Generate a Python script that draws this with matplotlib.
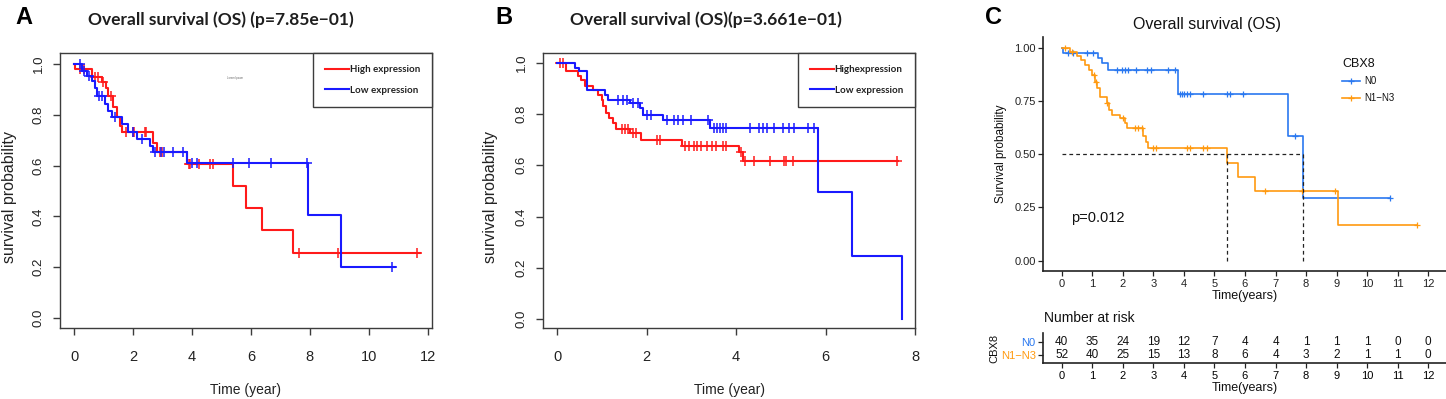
import numpy as np
import matplotlib
matplotlib.use("Agg")
import matplotlib.pyplot as plt
from matplotlib.lines import Line2D

# ---------------- Panel A data ----------------
A_high_t = [0, 0.02, 0.6, 0.94, 1.1, 1.16, 1.33, 1.45, 1.56, 1.62, 2.69, 2.8, 3.82, 5.4, 5.82, 6.36, 7.41]
A_high_s = [1.0, 0.98, 0.95, 0.927, 0.907, 0.875, 0.83, 0.79, 0.757, 0.731, 0.689, 0.652, 0.607, 0.518, 0.434, 0.345, 0.258]
A_high_end = 11.75
A_high_cens = [0.2, 0.35, 0.7, 0.8, 1.0, 1.25, 1.75, 2.0, 2.05, 2.4, 2.45, 2.9, 3.0, 3.9, 3.95,
               4.25, 4.6, 4.7, 7.63, 8.96, 11.62]

A_low_t = [0, 0.26, 0.43, 0.6, 0.71, 0.79, 1.05, 1.16, 1.28, 1.62, 1.84, 2.15, 2.58, 2.69, 3.82, 7.94, 9.07]
A_low_s = [1.0, 0.973, 0.953, 0.933, 0.907, 0.875, 0.842, 0.816, 0.79, 0.764, 0.733, 0.705, 0.678, 0.652, 0.61, 0.405, 0.2]
A_low_end = 10.88
A_low_cens = [0.2, 0.35, 0.5, 0.85, 0.95, 1.4, 2.0, 2.3, 2.75, 2.95, 3.05, 3.35, 3.7, 3.99, 4.16,
              5.4, 5.94, 6.68, 7.9, 10.8]

# ---------------- Panel B data ----------------
B_high_t = [0, 0.2, 0.47, 0.54, 0.62, 0.8, 0.92, 0.99, 1.03, 1.09, 1.16, 1.24, 1.31, 1.63, 1.87, 2.78, 4.07, 4.15]
B_high_s = [1.0, 0.966, 0.949, 0.934, 0.91, 0.895, 0.875, 0.855, 0.83, 0.803, 0.784, 0.764, 0.741, 0.725, 0.699, 0.676, 0.65, 0.617]
B_high_end = 7.63
B_high_cens = [0.05, 0.12, 1.45, 1.52, 1.58, 1.7, 1.76, 2.22, 2.3, 2.85, 2.95, 3.05, 3.12, 3.22, 3.35,
               3.45, 3.55, 3.7, 3.78, 4.1, 4.2, 4.4, 4.76, 5.06, 5.12, 5.28, 7.6]

B_low_t = [0, 0.39, 0.49, 0.66, 1.07, 1.14, 1.63, 1.85, 1.92, 2.37, 3.42, 5.83, 6.59, 7.71]
B_low_s = [1.0, 0.98, 0.969, 0.894, 0.875, 0.855, 0.842, 0.823, 0.797, 0.777, 0.745, 0.495, 0.247, 0.0]
B_low_end = 7.71
B_low_cens = [1.35, 1.47, 1.55, 1.7, 1.8, 2.0, 2.1, 2.45, 2.6, 2.7, 2.8, 3.0, 3.38, 3.5, 3.57, 3.63,
              3.7, 3.77, 4.3, 4.5, 4.6, 4.7, 4.85, 5.05, 5.18, 5.3, 5.6, 5.75]

# ---------------- Panel C data ----------------
C_n0_t = [0, 0.03, 1.2, 1.31, 1.53, 3.82, 7.42, 7.91]
C_n0_s = [1.0, 0.975, 0.953, 0.93, 0.895, 0.781, 0.585, 0.293]
C_n0_end = 10.75
C_n0_cens = [0.22, 0.38, 0.82, 1.04, 1.8, 1.96, 2.07, 2.18, 2.45, 2.78, 2.94, 3.49, 3.71,
             3.87, 3.93, 4.0, 4.1, 4.2, 4.64, 5.4, 5.51, 5.93, 7.64, 10.75]

C_n13_t = [0, 0.27, 0.49, 0.65, 0.76, 0.9, 0.98, 1.09, 1.17, 1.25, 1.47, 1.56, 1.64, 1.91, 2.07,
           2.15, 2.67, 2.75, 2.84, 5.4, 5.78, 6.33, 9.05]
C_n13_s = [1.0, 0.981, 0.962, 0.942, 0.919, 0.895, 0.872, 0.84, 0.81, 0.77, 0.739, 0.707, 0.684,
           0.668, 0.645, 0.621, 0.585, 0.555, 0.528, 0.46, 0.394, 0.329, 0.168]
C_n13_end = 11.64
C_n13_cens = [0.12, 0.35, 1.05, 1.12, 1.5, 2.0, 2.4, 2.51, 2.62, 2.99, 3.1, 4.09, 4.2, 4.64, 4.75,
              6.66, 7.86, 8.95, 11.64]

risk_times = list(range(13))
risk_n0 = [40, 35, 24, 19, 12, 7, 4, 4, 1, 1, 1, 0, 0]
risk_n13 = [52, 40, 25, 15, 13, 8, 6, 4, 3, 2, 1, 1, 0]

RED, BLUE = "#ff1a1a", "#1a1aff"
C_BLUE, C_ORANGE = "#2a78f0", "#ff9a10"
AX_COL = "#3c3c3c"

plt.rcParams["font.family"] = ["Liberation Sans", "DejaVu Sans"]

W, H = 1446, 399
fig = plt.figure(figsize=(W / 100, H / 100), dpi=100)


def rect(x0, y0, x1, y1):
    return [x0 / W, 1 - y1 / H, (x1 - x0) / W, (y1 - y0) / H]


def fxy(x, y):
    return x / W, 1 - y / H


def km(ax, t, s, end, cens, color, lw, ms, mew):
    tt = list(t) + [end]
    ss = list(s) + [s[-1]]
    ax.step(tt, ss, where="post", color=color, lw=lw)
    t_arr = np.asarray(t)
    s_arr = np.asarray(s)
    idx = np.searchsorted(t_arr, cens, side="right") - 1
    ax.plot(cens, s_arr[idx], ls="none", marker="+", color=color, ms=ms, mew=mew)


def base_axes(ax, xticks, xlim, ylim):
    ax.set_xlim(xlim)
    ax.set_ylim(ylim)
    for sp in ax.spines.values():
        sp.set_color(AX_COL)
        sp.set_linewidth(1.0)
    ax.set_xticks(xticks)
    yt = np.arange(0, 1.01, 0.2)
    ax.set_yticks(yt)
    ax.set_yticklabels([f"{v:.1f}" for v in yt], rotation=90, va="center")
    ax.tick_params(direction="out", length=5, width=1.0, color=AX_COL)
    ax.tick_params(axis="x", pad=11, labelsize=10.5, labelcolor="#222222")
    ax.tick_params(axis="y", pad=6, labelsize=9.5, labelcolor="#222222")


title_font = dict(family=["Lato", "DejaVu Sans"], weight="bold", color="#1e1e1e")
leg_prop = dict(family=["Lato", "DejaVu Sans"], weight="bold", size=7)


def add_legend(ax, labels):
    leg = ax.legend(handles=[Line2D([], [], color=RED, lw=1.5), Line2D([], [], color=BLUE, lw=1.5)],
                    labels=labels, loc="upper right", bbox_to_anchor=(1.0, 1.0), borderaxespad=0,
                    fancybox=False, framealpha=1, edgecolor=AX_COL, prop=leg_prop,
                    handlelength=2.4, handletextpad=0.1, borderpad=1.25, labelspacing=1.2)
    leg.get_frame().set_linewidth(1.0)
    for txt in leg.get_texts():
        txt.set_color("#222222")
    return leg


# ---------------- Panel A ----------------
axA = fig.add_axes(rect(60, 53, 432, 328))
km(axA, A_high_t, A_high_s, A_high_end, A_high_cens, RED, 1.5, 7.5, 1.1)
km(axA, A_low_t, A_low_s, A_low_end, A_low_cens, BLUE, 1.5, 7.5, 1.1)
base_axes(axA, np.arange(0, 12.1, 2), (-0.475, 12.14), (-0.039, 1.043))
axA.text(0.47, 0.905, "Lorem Ipsum", transform=axA.transAxes, fontsize=2, color="#666666", ha="center")
add_legend(axA, ["High expression", "Low expression"])
fig.text(*fxy(221, 20), "Overall survival (OS) (p=7.85e\u221201)", ha="center", va="center", size=12.5, **title_font)
fig.text(*fxy(10, 197), "survival probability", rotation=90, ha="center", va="center", size=11.5, color="#222222")
fig.text(*fxy(246, 390), "Time (year)", ha="center", va="center", size=10, color="#222222")
fig.text(*fxy(24, 17), "A", ha="center", va="center", size=17, weight="bold")

# ---------------- Panel B ----------------
axB = fig.add_axes(rect(543, 53, 915, 328))
km(axB, B_high_t, B_high_s, B_high_end, B_high_cens, RED, 1.5, 7.5, 1.1)
km(axB, B_low_t, B_low_s, B_low_end, B_low_cens, BLUE, 1.5, 7.5, 1.1)
base_axes(axB, np.arange(0, 8.1, 2), (-0.32, 8.0), (-0.035, 1.038))
add_legend(axB, ["Highexpression", "Low expression"])
fig.text(*fxy(706, 20), "Overall survival (OS)(p=3.661e\u221201)", ha="center", va="center", size=12.5, **title_font)
fig.text(*fxy(491, 197), "survival probability", rotation=90, ha="center", va="center", size=11.5, color="#222222")
fig.text(*fxy(729, 390), "Time (year)", ha="center", va="center", size=10, color="#222222")
fig.text(*fxy(504, 17), "B", ha="center", va="center", size=17, weight="bold")

# ---------------- Panel C ----------------
c_xlim = (-0.6, 12.58)
axC = fig.add_axes(rect(1043.3, 37, 1446, 271.3))
km(axC, C_n0_t, C_n0_s, C_n0_end, C_n0_cens, C_BLUE, 1.2, 5, 0.9)
km(axC, C_n13_t, C_n13_s, C_n13_end, C_n13_cens, C_ORANGE, 1.2, 5, 0.9)


def median_time(t, s):
    t_arr = np.asarray(t)
    s_arr = np.asarray(s)
    return t_arr[np.argmax(s_arr <= 0.5)]


med_n13 = median_time(C_n13_t, C_n13_s)
med_n0 = median_time(C_n0_t, C_n0_s)
dash = dict(color="#222222", lw=0.9, ls=(0, (3, 2.5)))
axC.plot([0, max(med_n0, med_n13)], [0.5, 0.5], **dash)
axC.plot([med_n13, med_n13], [0, 0.5], **dash)
axC.plot([med_n0, med_n0], [0, 0.5], **dash)
axC.set_xlim(c_xlim)
axC.set_ylim(-0.05, 1.05)
axC.set_xticks(range(13))
axC.set_yticks([0, 0.25, 0.5, 0.75, 1.0])
axC.set_yticklabels(["0.00", "0.25", "0.50", "0.75", "1.00"])
for sp in ["top", "right"]:
    axC.spines[sp].set_visible(False)
for sp in ["left", "bottom"]:
    axC.spines[sp].set_linewidth(1.2)
    axC.spines[sp].set_color("#222222")
axC.tick_params(direction="out", length=3.5, width=0.9, color="#222222", labelsize=8, labelcolor="#222222", pad=2)
axC.set_xlabel("Time(years)", fontsize=9, labelpad=1, color="#111111")
axC.set_ylabel("Survival probability", fontsize=8.5, labelpad=5, color="#111111")
axC.text(1.19, 0.2, "p=0.012", fontsize=10.5, ha="center", va="center", color="#111111",
         transform=axC.transData)
fig.text(*fxy(1207, 25), "Overall survival (OS)", ha="center", va="center", size=11.5, color="#111111")
fig.text(*fxy(994, 17), "C", ha="center", va="center", size=17, weight="bold")

# legend for panel C (manual)
fig.text(*fxy(1342, 64), "CBX8", ha="left", va="center", size=9, color="#111111")
for yy, col, lab in [(81, C_BLUE, "N0"), (98, C_ORANGE, "N1\u2212N3")]:
    fig.add_artist(Line2D([1342 / W, 1360 / W], [1 - yy / H, 1 - yy / H], color=col, lw=1.2,
                          transform=fig.transFigure))
    fig.add_artist(Line2D([1351 / W], [1 - yy / H], color=col, marker="+", ms=5, mew=0.9,
                          transform=fig.transFigure))
    fig.text(*fxy(1364, yy), lab, ha="left", va="center", size=7, color="#111111")

# ---------------- Risk table ----------------
axR = fig.add_axes(rect(1043.3, 333, 1446, 363.3))
axR.set_xlim(c_xlim)
axR.set_ylim(0.375, 2.65)
for x, a, b in zip(risk_times, risk_n0, risk_n13):
    axR.text(x, 2, str(a), ha="center", va="center", fontsize=8.5, color="#111111")
    axR.text(x, 1, str(b), ha="center", va="center", fontsize=8.5, color="#111111")
axR.set_yticks([2, 1])
axR.set_yticklabels(["N0", "N1\u2212N3"], fontsize=8)
for lab, col in zip(axR.get_yticklabels(), [C_BLUE, C_ORANGE]):
    lab.set_color(col)
axR.set_xticks(risk_times)
for sp in ["top", "right"]:
    axR.spines[sp].set_visible(False)
for sp in ["left", "bottom"]:
    axR.spines[sp].set_linewidth(1.2)
    axR.spines[sp].set_color("#222222")
axR.tick_params(direction="out", length=3.5, width=0.9, color="#222222", labelsize=8, pad=2)
axR.set_xlabel("Time(years)", fontsize=9, labelpad=1, color="#111111")
axR.set_ylabel("CBX8", fontsize=8, labelpad=1, color="#111111")
fig.text(*fxy(1044, 318), "Number at risk", ha="left", va="center", size=10, color="#111111")

fig.savefig("out.png", dpi=100)
